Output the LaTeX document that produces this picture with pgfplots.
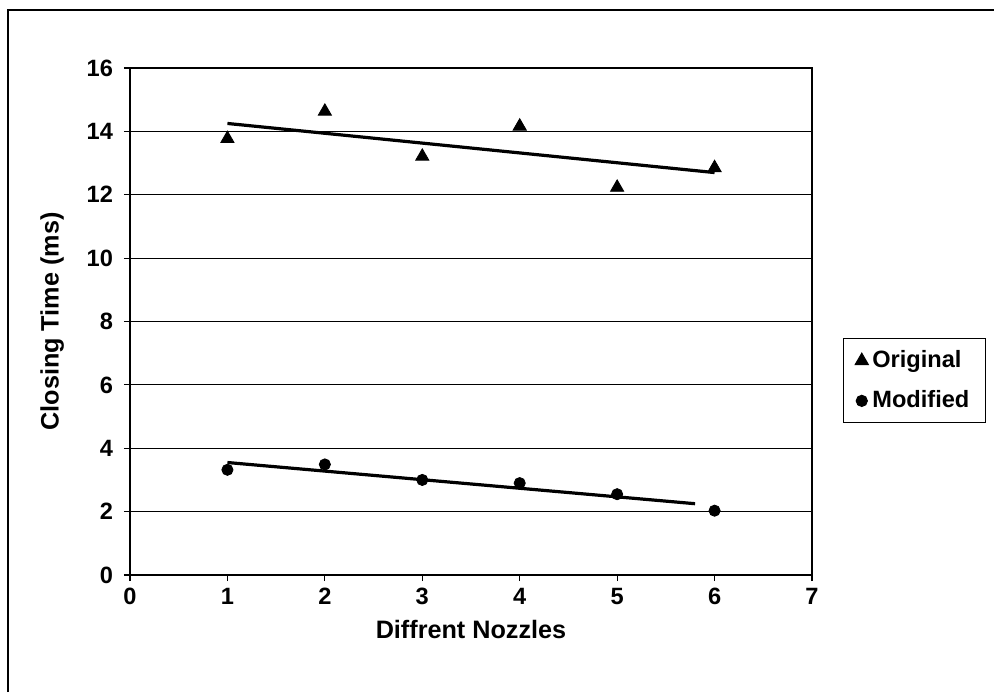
\documentclass[border=0pt]{standalone}
\usepackage{fontspec}
\setmainfont{Liberation Sans}
\usepackage{pgfplots}
\pgfplotsset{compat=1.18}
\begin{document}
\begin{tikzpicture}
\useasboundingbox (-65pt,-58.5pt) rectangle (432pt,287.5pt);
\draw[line width=0.6pt] (-61pt,-58.5pt) -- (-61pt,282.5pt) -- (432pt,282.5pt);
\begin{axis}[
  at={(0,0)}, anchor=origin,
  scale only axis, width=341pt, height=253.5pt,
  xmin=0, xmax=7, ymin=0, ymax=16,
  xtick={0,1,...,7}, ytick={0,2,...,16},
  xtick pos=bottom, ytick pos=left,
  ymajorgrids, major grid style={black, line width=0.5pt},
  axis line style={black, line width=0.6pt},
  tick align=outside, tick style={black, line width=0.6pt}, major tick length=3pt,
  /pgf/number format/assume math mode=true,
  ticklabel style={font=\bfseries\fontsize{11.8}{13}\selectfont},
  yticklabel style={xshift=-2pt},
  xlabel={\textbf{Diffrent Nozzles}}, ylabel={\textbf{Closing Time (ms)}},
  label style={font=\bfseries\fontsize{12.6}{14}\selectfont},
  xlabel style={yshift=-1pt},
  ylabel style={yshift=4.5pt},
  legend style={at={(1.045,0.383)}, anchor=west, draw=black, line width=0.5pt,
    font=\bfseries\fontsize{11.8}{13}\selectfont, inner xsep=6pt, inner ysep=4pt, row sep=6pt,
    legend cell align=left},
  legend image code/.code={\draw[#1] plot coordinates {(0.12cm,0cm)};},
]
\addplot[only marks, mark=triangle*, mark size=3.8pt, black] coordinates {
(1,13.77) (2,14.63) (3,13.21) (4,14.16) (5,12.23) (6,12.85)};
\addlegendentry{Original}
\addplot[only marks, mark=*, mark size=2.8pt, black] coordinates {
(1,3.32) (2,3.49) (3,3.0) (4,2.9) (5,2.55) (6,2.03)};
\addlegendentry{Modified}
\addplot[black, line width=1.6pt, forget plot] coordinates {(1,14.25) (6,12.70)};
\addplot[black, line width=1.6pt, forget plot] coordinates {(1,3.55) (5.8,2.25)};
\end{axis}
\end{tikzpicture}
\end{document}
